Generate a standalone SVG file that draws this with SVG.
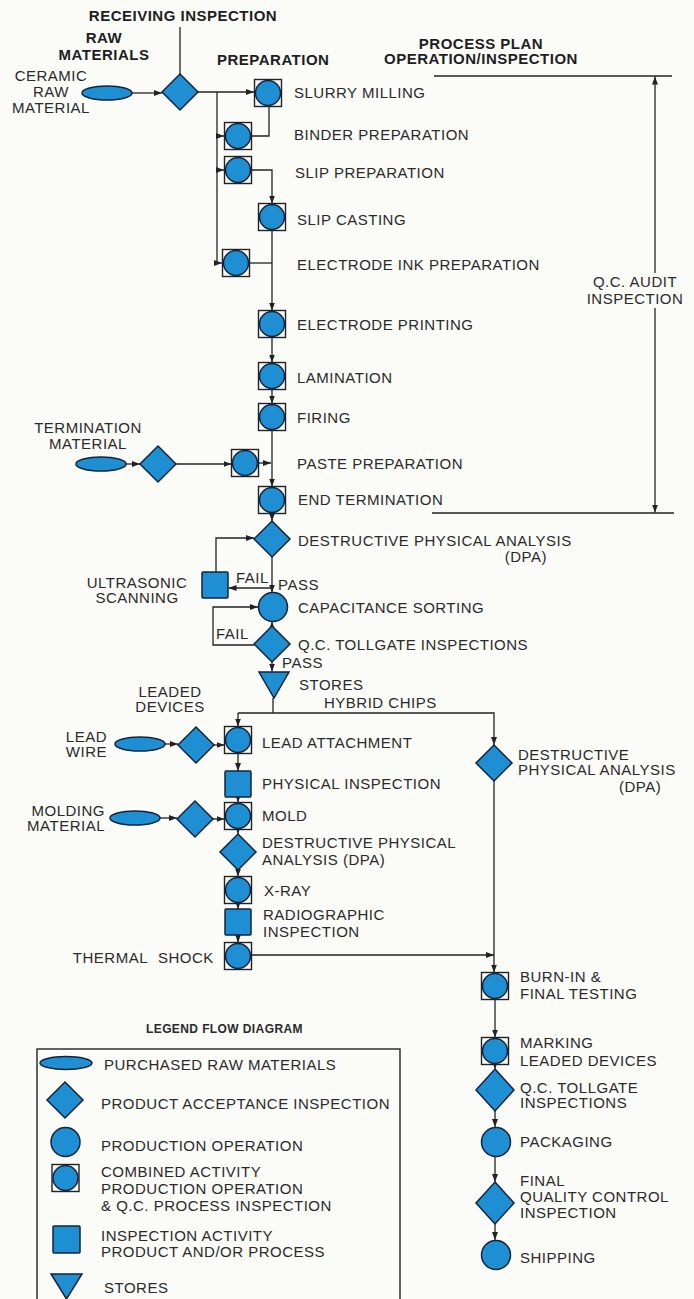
<svg xmlns="http://www.w3.org/2000/svg" xmlns:xlink="http://www.w3.org/1999/xlink" width="694" height="1299" viewBox="0 0 694 1299">
<style>
text{font-family:"Liberation Sans",Arial,Helvetica,sans-serif;font-size:15px;letter-spacing:0.5px;fill:#2a2a2a}
.b{font-weight:bold;fill:#1e1e1e}
.lg{font-size:12px;font-weight:bold;letter-spacing:0.4px}
.m{text-anchor:middle}
.e{text-anchor:end}
.fill{fill:#1f8fd3;stroke:#14243a;stroke-width:1.5}
.box{fill:none;stroke:#222;stroke-width:1.4}
.ln{fill:none;stroke:#222;stroke-width:1.3}
.ar{marker-end:url(#arr)}
</style>
<defs>
<marker id="arr" viewBox="0 0 8 6" refX="8" refY="3" markerWidth="8" markerHeight="6" markerUnits="userSpaceOnUse" orient="auto">
<path d="M0,0 L8,3 L0,6 z" fill="#222"/>
</marker>
<g id="combined"><rect class="box" x="-13.5" y="-13.5" width="27" height="27"/><circle class="fill" r="12.5"/></g>
<circle id="op" class="fill" r="14.5"/>
<polygon id="dia" class="fill" points="0,-18 18,0 0,18 -18,0"/>
<polygon id="diat" class="fill" points="0,-21 19,0 0,21 -19,0"/>
<rect id="sq" class="fill" x="-13" y="-13" width="26" height="26" rx="1"/>
<ellipse id="oval" class="fill" rx="25" ry="7"/>
<polygon id="store" class="fill" points="-15,-13 15,-13 0,13"/>
</defs>
<rect width="694" height="1299" fill="#fbfbf8"/>

<g id="headers">
<text class="b m" x="183" y="21">RECEIVING INSPECTION</text>
<text class="b m" x="104" y="43">RAW</text>
<text class="b m" x="104" y="60">MATERIALS</text>
<text class="b" x="217" y="65">PREPARATION</text>
<text class="b m" x="481" y="49">PROCESS PLAN</text>
<text class="b m" x="481" y="64">OPERATION/INSPECTION</text>
</g>

<g id="connectors">
<path class="ln" d="M180,27 V74"/>
<path class="ln ar" d="M132,93 H162"/>
<path class="ln ar" d="M198,92 H254"/>
<path class="ln" d="M217,92 V263"/>
<path class="ln ar" d="M217,136 H224"/>
<path class="ln ar" d="M217,170 H224"/>
<path class="ln ar" d="M217,263 H222"/>
<path class="ln" d="M269,106.5 V136 H251.5"/>
<path class="ln ar" d="M251.5,170 H272 V203.5"/>
<path class="ln ar" d="M272,230.5 V310.5"/>
<path class="ln" d="M249.5,263 H272"/>
<path class="ln ar" d="M272,337.5 V362.5"/>
<path class="ln ar" d="M272,389.5 V403.5"/>
<path class="ln ar" d="M272,430.5 V486.5"/>
<path class="ln ar" d="M126,464 H140"/>
<path class="ln ar" d="M176,464 H231.5"/>
<path class="ln ar" d="M258.5,463 H271"/>
<path class="ln ar" d="M272,513.5 V521"/>
<path class="ln ar" d="M272,557 V592.5"/>
<path class="ln ar" d="M272,588 H228.5"/>
<path class="ln ar" d="M216,572 V538 H254"/>
<path class="ln ar" d="M272,626 V621.5"/>
<path class="ln ar" d="M254,645 H213 V607 H258"/>
<path class="ln ar" d="M272,662 V671.5"/>
<path class="ln" d="M273,698 V713"/>
<path class="ln ar" d="M238,713 H494 V745"/>
<path class="ln ar" d="M238,713 V726.5"/>
<path class="ln ar" d="M165,744 H178"/>
<path class="ln ar" d="M214,745 H224.5"/>
<path class="ln ar" d="M238,753.5 V771"/>
<path class="ln ar" d="M238,797 V802.5"/>
<path class="ln ar" d="M160,818 H177"/>
<path class="ln ar" d="M213,819 H224.5"/>
<path class="ln ar" d="M238,829.5 V834"/>
<path class="ln ar" d="M238,870 V876.5"/>
<path class="ln ar" d="M238,903.5 V909"/>
<path class="ln ar" d="M238,935 V942.5"/>
<path class="ln ar" d="M251,955 H494"/>
<path class="ln ar" d="M494,781 V972.5"/>
<path class="ln ar" d="M495,999.5 V1037.5"/>
<path class="ln ar" d="M495,1064.5 V1069"/>
<path class="ln ar" d="M495,1111 V1127"/>
<path class="ln ar" d="M495,1156.5 V1182"/>
<path class="ln ar" d="M495,1224 V1240"/>
<path class="ln" d="M434,76 H672"/>
<path class="ln" d="M432,513 H674"/>
<path class="ln ar" d="M655,273 V76.5"/>
<path class="ln ar" d="M655,308 V512.5"/>
</g>

<g id="n-ceramic"><use xlink:href="#oval" x="107" y="93"/>
<text class="m" x="51" y="81">CERAMIC</text><text class="m" x="51" y="97">RAW</text><text class="m" x="51" y="113">MATERIAL</text></g>
<g id="n-receiving"><use xlink:href="#dia" x="180" y="92"/></g>
<g id="n-slurry"><use xlink:href="#combined" x="268" y="93"/><text x="294" y="98">SLURRY MILLING</text></g>
<g id="n-binder"><use xlink:href="#combined" x="238" y="136"/><text x="294" y="140">BINDER PREPARATION</text></g>
<g id="n-slipprep"><use xlink:href="#combined" x="238" y="170"/><text x="295" y="178">SLIP PREPARATION</text></g>
<g id="n-slipcast"><use xlink:href="#combined" x="272" y="217"/><text x="297" y="225">SLIP CASTING</text></g>
<g id="n-eink"><use xlink:href="#combined" x="236" y="263"/><text x="297" y="270">ELECTRODE INK PREPARATION</text></g>
<g id="n-eprint"><use xlink:href="#combined" x="272" y="324"/><text x="297" y="330">ELECTRODE PRINTING</text></g>
<g id="n-lamination"><use xlink:href="#combined" x="272" y="376"/><text x="297" y="383">LAMINATION</text></g>
<g id="n-firing"><use xlink:href="#combined" x="272" y="417"/><text x="297" y="423">FIRING</text></g>
<g id="n-termmat"><use xlink:href="#oval" x="101" y="464"/>
<text class="m" x="88" y="433">TERMINATION</text><text class="m" x="88" y="449">MATERIAL</text></g>
<g id="n-termdia"><use xlink:href="#dia" x="158" y="464"/></g>
<g id="n-paste"><use xlink:href="#combined" x="245" y="463"/><text x="297" y="469">PASTE PREPARATION</text></g>
<g id="n-endterm"><use xlink:href="#combined" x="272" y="500"/><text x="298" y="505">END TERMINATION</text></g>
<g id="n-dpa1"><use xlink:href="#dia" x="272" y="539"/><text x="298" y="546">DESTRUCTIVE PHYSICAL ANALYSIS</text><text class="e" x="547" y="562">(DPA)</text></g>
<g id="n-ultrasonic"><use xlink:href="#sq" x="215" y="585"/>
<text class="m" x="137" y="588">ULTRASONIC</text><text class="m" x="137" y="603">SCANNING</text>
<text x="236" y="583">FAIL</text><text x="278" y="590">PASS</text></g>
<g id="n-capacitance"><use xlink:href="#op" x="273" y="607"/><text x="298" y="613">CAPACITANCE SORTING</text></g>
<g id="n-tollgate1"><use xlink:href="#dia" x="272" y="644"/><text x="298" y="650">Q.C. TOLLGATE INSPECTIONS</text>
<text x="216" y="639">FAIL</text><text x="282" y="668">PASS</text></g>
<g id="n-stores"><use xlink:href="#store" x="274" y="685"/><text x="299" y="690">STORES</text>
<text x="324" y="708">HYBRID CHIPS</text><text class="m" x="170" y="697">LEADED</text><text class="m" x="170" y="712">DEVICES</text></g>
<g id="n-leadwire"><use xlink:href="#oval" x="140" y="744"/><text class="e" x="107" y="742">LEAD</text><text class="e" x="107" y="757">WIRE</text></g>
<g id="n-leadwiredia"><use xlink:href="#dia" x="196" y="745"/></g>
<g id="n-leadattach"><use xlink:href="#combined" x="238" y="740"/><text x="262" y="748">LEAD ATTACHMENT</text></g>
<g id="n-physinsp"><use xlink:href="#sq" x="238" y="784"/><text x="262" y="789">PHYSICAL INSPECTION</text></g>
<g id="n-molding"><use xlink:href="#oval" x="135" y="818"/><text class="e" x="105" y="816">MOLDING</text><text class="e" x="105" y="831">MATERIAL</text></g>
<g id="n-moldingdia"><use xlink:href="#dia" x="195" y="819"/></g>
<g id="n-mold"><use xlink:href="#combined" x="238" y="816"/><text x="262" y="821">MOLD</text></g>
<g id="n-dpa2"><use xlink:href="#dia" x="238" y="852"/><text x="262" y="848">DESTRUCTIVE PHYSICAL</text><text x="262" y="865">ANALYSIS (DPA)</text></g>
<g id="n-xray"><use xlink:href="#combined" x="238" y="890"/><text x="264" y="896">X-RAY</text></g>
<g id="n-radio"><use xlink:href="#sq" x="238" y="922"/><text x="263" y="920">RADIOGRAPHIC</text><text x="263" y="937">INSPECTION</text></g>
<g id="n-thermal"><use xlink:href="#combined" x="238" y="956"/><text class="e" x="148" y="963">THERMAL</text><text x="158" y="963">SHOCK</text></g>
<g id="n-dpa3"><use xlink:href="#dia" x="494" y="763"/><text x="518" y="760">DESTRUCTIVE</text><text x="518" y="775">PHYSICAL ANALYSIS</text><text x="619" y="792">(DPA)</text></g>
<g id="n-audit"><text class="m" x="635" y="287">Q.C. AUDIT</text><text class="m" x="635" y="304">INSPECTION</text></g>
<g id="n-burnin"><use xlink:href="#combined" x="495" y="986"/><text x="520" y="982">BURN-IN &amp;</text><text x="520" y="999">FINAL TESTING</text></g>
<g id="n-marking"><use xlink:href="#combined" x="495" y="1051"/><text x="520" y="1048">MARKING</text><text x="520" y="1066">LEADED DEVICES</text></g>
<g id="n-tollgate2"><use xlink:href="#diat" x="495" y="1090"/><text x="520" y="1093">Q.C. TOLLGATE</text><text x="520" y="1108">INSPECTIONS</text></g>
<g id="n-packaging"><use xlink:href="#op" x="496" y="1142"/><text x="520" y="1147">PACKAGING</text></g>
<g id="n-final"><use xlink:href="#diat" x="495" y="1203"/><text x="520" y="1186">FINAL</text><text x="520" y="1202">QUALITY CONTROL</text><text x="520" y="1218">INSPECTION</text></g>
<g id="n-shipping"><use xlink:href="#op" x="496" y="1255"/><text x="520" y="1263">SHIPPING</text></g>

<g id="legend">
<text class="lg" x="146" y="1033">LEGEND FLOW DIAGRAM</text>
<rect class="box" x="37" y="1049" width="363" height="270"/>
<ellipse class="fill" cx="66" cy="1063" rx="26" ry="6.5"/>
<text x="104" y="1070">PURCHASED RAW MATERIALS</text>
<use xlink:href="#dia" x="65" y="1100"/>
<text x="101" y="1109">PRODUCT ACCEPTANCE INSPECTION</text>
<use xlink:href="#op" x="65.5" y="1142"/>
<text x="101" y="1151">PRODUCTION OPERATION</text>
<use xlink:href="#combined" x="65.5" y="1178"/>
<text x="101" y="1177">COMBINED ACTIVITY</text>
<text x="101" y="1194">PRODUCTION OPERATION</text>
<text x="101" y="1211">&amp; Q.C. PROCESS INSPECTION</text>
<rect class="fill" x="53" y="1226" width="27" height="27" rx="1"/>
<text x="101" y="1241">INSPECTION ACTIVITY</text>
<text x="101" y="1257">PRODUCT AND/OR PROCESS</text>
<polygon class="fill" points="51,1274 82,1274 66.5,1299"/>
<text x="104" y="1293">STORES</text>
</g>
</svg>
